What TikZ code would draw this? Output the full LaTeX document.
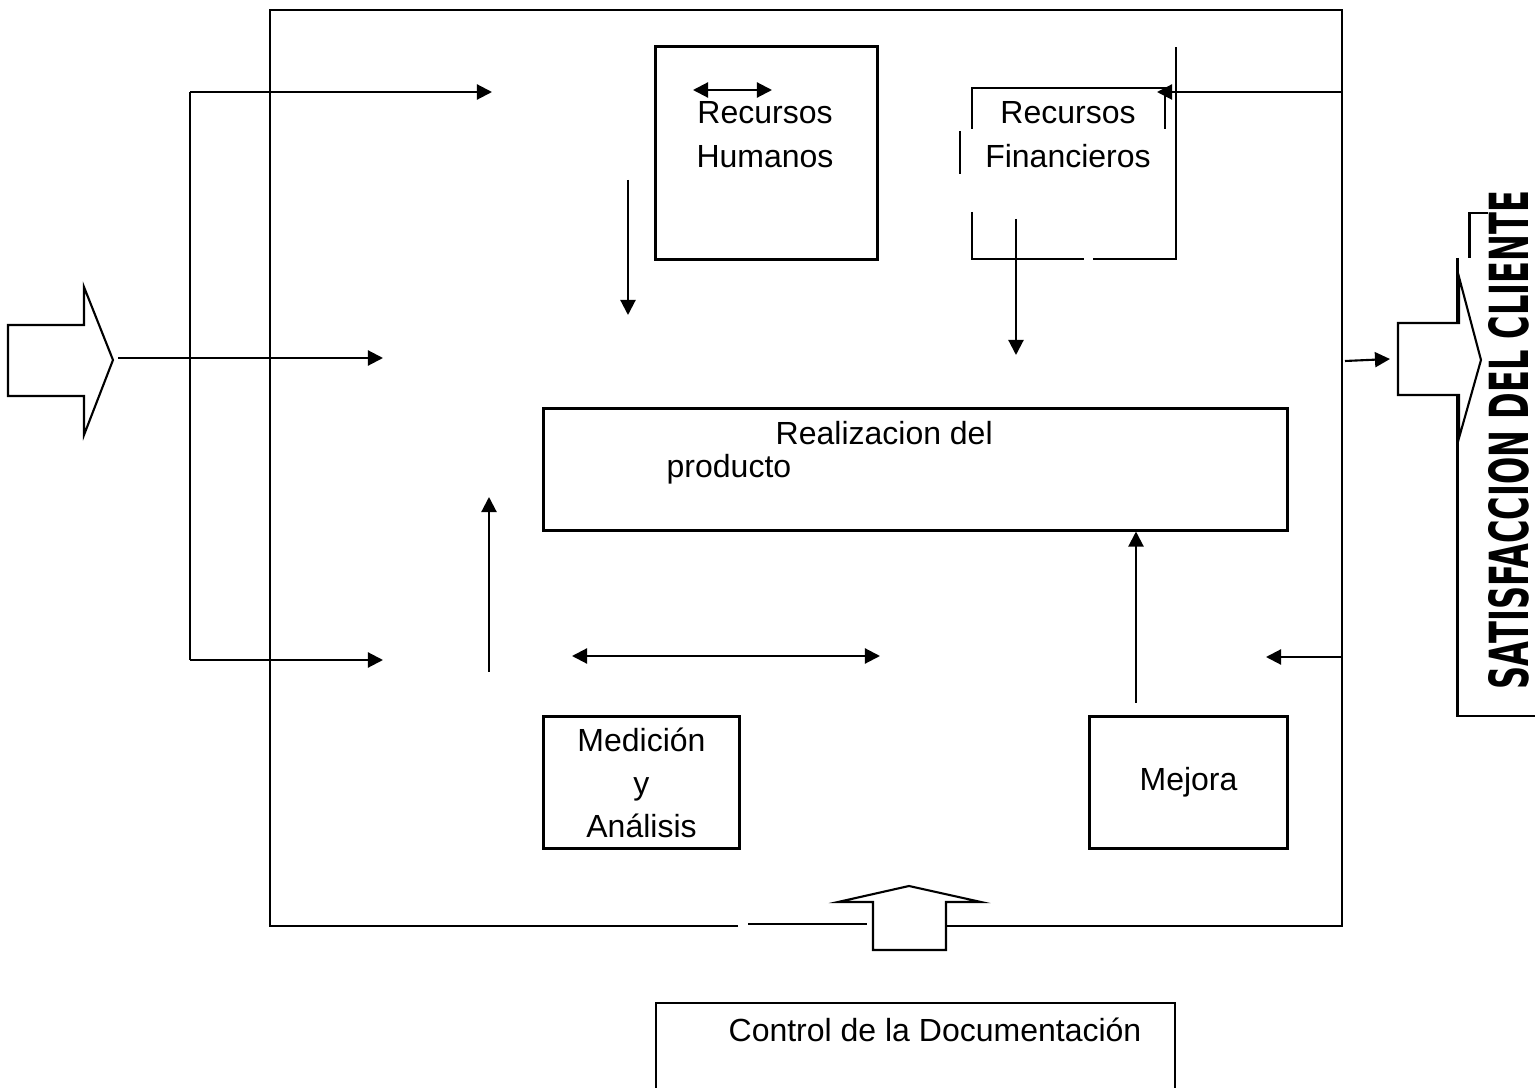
\documentclass[tikz,border=0pt]{standalone}
\usepackage{fontspec}
\usepackage{graphicx}
\setmainfont{Liberation Sans}
\newfontfamily\satfont{DejaVu Sans}
\usetikzlibrary{arrows.meta}
\begin{document}
\begin{tikzpicture}[x=0.01cm,y=-0.01cm,
  frame/.style={line width=0.85pt},
  box/.style={draw, line width=0.85pt, inner sep=0pt, align=center,
    font=\fontsize{9.1pt}{12.2pt}\selectfont},
  txt/.style={inner sep=0pt, align=center, font=\fontsize{9.1pt}{12.5pt}\selectfont},
  conn/.style={line width=0.6pt, -{Triangle[length=0.15cm,width=0.15cm]}},
  dconn/.style={line width=0.6pt, {Triangle[length=0.15cm,width=0.15cm]}-{Triangle[length=0.15cm,width=0.15cm]}},
  plain/.style={line width=0.6pt},
  blockarrow/.style={draw, fill=white, line width=0.6pt, line join=miter}]
\useasboundingbox (0,0) rectangle (1535,1088);

% ---------- main frame ----------
\draw[frame] (738,926) -- (270,926) -- (270,10) -- (1342,10) -- (1342,926) -- (947,926);
\draw[frame] (748,924) -- (867,924);

% ---------- boxes ----------
\node[box, minimum width=2.21cm, minimum height=2.12cm] (rh) at (766.5,153) {};
\node[txt] (rhT) at (765,135) {Recursos\\Humanos};

% Recursos Financieros (broken outline)
\draw[frame] (972,129) -- (972,88) -- (1165,88) -- (1165,129);
\draw[frame] (960,131) -- (960,174);
\draw[frame] (972,212) -- (972,259) -- (1084,259);
\draw[frame] (1093,259) -- (1176,259) -- (1176,47);
\node[txt] (rfT) at (1068,135) {Recursos\\Financieros};

\node[box, minimum width=7.43cm, minimum height=1.21cm] (real) at (915.5,469.5) {};
\node[txt, anchor=west] (realT1) at (775,433) {Realizacion del};
\node[txt, anchor=west] (realT2) at (666,469) {producto};

\node[box, minimum width=1.95cm, minimum height=1.31cm] (med) at (641.5,782.5)
  {Medición\\y\\Análisis};
\node[box, minimum width=1.97cm, minimum height=1.31cm] (mej) at (1188.5,782.5) {Mejora};

\draw[frame] (656,1090) -- (656,1003) -- (1175,1003) -- (1175,1090);
\node[txt] (ctrl) at (935,1030) {Control de la Documentación};

% ---------- satisfaccion del cliente ----------
\draw[frame] (1457,258) -- (1457,716) -- (1540,716);
\draw[frame] (1469,258) -- (1469,213) -- (1488,213);
\node[rotate=90, inner sep=0pt] (sat) at (1509,440)
  {\resizebox{4.98cm}{0.40cm}{\satfont\bfseries SATISFACCION DEL CLIENTE}};

% ---------- block arrows ----------
\draw[blockarrow] (8,325) -- (84,325) -- (84,287) -- (113,360) -- (84,435) -- (84,396) -- (8,396) -- cycle;
\draw[blockarrow] (1398,323) -- (1459,323) -- (1459,277) -- (1481,360) -- (1459,438) -- (1459,395) -- (1398,395) -- cycle;
\draw[blockarrow] (873,950) -- (873,902) -- (838,902) -- (909,886) -- (981,902) -- (946,902) -- (946,950) -- cycle;

% ---------- coordinates ----------
\coordinate (inS) at (118,358);
\coordinate (inE) at (383,358);
\coordinate (busT) at (190,92);
\coordinate (busB) at (190,660);
\coordinate (topE) at (492,92);
\coordinate (botE) at (383,660);
\coordinate (rhS) at (628,180);
\coordinate (rhE) at (628,315);
\coordinate (rfS) at (1016,219);
\coordinate (rfE) at (1016,355);
\coordinate (upS) at (489,672);
\coordinate (upE) at (489,497);
\coordinate (dL) at (572,656);
\coordinate (dR) at (880,656);
\coordinate (mejS) at (1136,703);
\coordinate (rhL) at (693,90);
\coordinate (rhR) at (772,90);
\coordinate (rbT) at (1342,92);
\coordinate (rbB) at (1342,657);
\coordinate (rfTip) at (1157,92);
\coordinate (fbTip) at (1266,657);
\coordinate (outS) at (1345,361);
\coordinate (outE) at (1390,359);

% ---------- connectors ----------
\draw[conn] (inS) -- (inE);
\draw[plain] (busT) -- (busB);
\draw[conn] (busT) -- (topE);
\draw[conn] (busB) -- (botE);
\draw[conn] (rhS) -- (rhE);
\draw[conn] (rfS) -- (rfE);
\draw[conn] (upS) -- (upE);
\draw[dconn] (dL) -- (dR);
\draw[conn] (mejS) -- (mejS |- real.south);
\draw[dconn] (rhL) -- (rhR);
\draw[frame] (rbT) -- (rbB);
\draw[conn] (rbT) -- (rfTip);
\draw[conn] (rbB) -- (fbTip);
\draw[conn] (outS) -- (outE);
\end{tikzpicture}
\end{document}
